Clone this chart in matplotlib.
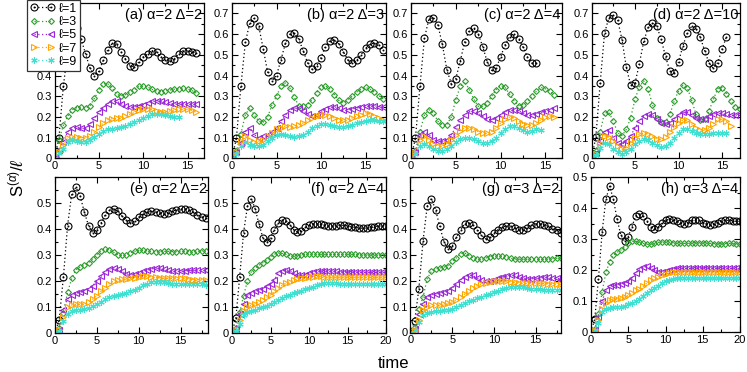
import numpy as np
import matplotlib
matplotlib.use("Agg")
import matplotlib.pyplot as plt
from matplotlib.path import Path
from matplotlib.ticker import MultipleLocator, FuncFormatter

plt.rcParams['font.family'] = ['Liberation Sans', 'DejaVu Sans']
plt.rcParams['mathtext.fontset'] = 'custom'
plt.rcParams['mathtext.rm'] = 'Liberation Sans'
plt.rcParams['mathtext.it'] = 'Liberation Sans:italic'

# data sampled every 0.5 time units, starting at t=0
dt = 0.5

# (a) alpha=2 Delta=2
a_l1 = [0, 0.10, 0.35, 0.52, 0.62, 0.63, 0.575, 0.505, 0.435, 0.40, 0.42, 0.475, 0.525, 0.555, 0.55, 0.515, 0.48, 0.448, 0.442, 0.465, 0.49, 0.505, 0.52, 0.512, 0.49, 0.476, 0.47, 0.48, 0.505, 0.52, 0.52, 0.515, 0.508]
a_l3 = [0, 0.09, 0.16, 0.205, 0.235, 0.245, 0.247, 0.243, 0.255, 0.29, 0.33, 0.36, 0.36, 0.338, 0.31, 0.302, 0.308, 0.32, 0.332, 0.348, 0.35, 0.345, 0.333, 0.324, 0.322, 0.326, 0.33, 0.334, 0.335, 0.338, 0.335, 0.328, 0.315]
a_l5 = [0, 0.04, 0.08, 0.13, 0.145, 0.152, 0.146, 0.145, 0.165, 0.195, 0.222, 0.245, 0.265, 0.278, 0.276, 0.265, 0.252, 0.247, 0.248, 0.254, 0.26, 0.268, 0.275, 0.279, 0.277, 0.273, 0.267, 0.263, 0.263, 0.263, 0.263, 0.263, 0.263]
a_l7 = [0, 0.03, 0.065, 0.1, 0.105, 0.105, 0.1, 0.1, 0.11, 0.127, 0.15, 0.172, 0.187, 0.192, 0.193, 0.196, 0.205, 0.213, 0.222, 0.232, 0.238, 0.241, 0.238, 0.23, 0.226, 0.226, 0.229, 0.234, 0.239, 0.24, 0.238, 0.232, 0.222]
a_l9 = [0, 0.025, 0.045, 0.08, 0.088, 0.085, 0.08, 0.08, 0.087, 0.102, 0.118, 0.132, 0.14, 0.144, 0.145, 0.15, 0.157, 0.165, 0.175, 0.187, 0.197, 0.207, 0.214, 0.217, 0.214, 0.21, 0.205, 0.2, 0.2]

# (b) alpha=2 Delta=3
b_l1 = [0, 0.1, 0.35, 0.56, 0.655, 0.676, 0.64, 0.53, 0.417, 0.375, 0.4, 0.476, 0.556, 0.6, 0.604, 0.575, 0.52, 0.46, 0.43, 0.444, 0.487, 0.54, 0.569, 0.572, 0.553, 0.516, 0.476, 0.463, 0.473, 0.5, 0.532, 0.553, 0.556, 0.548, 0.524]
b_l3 = [0, 0.035, 0.12, 0.21, 0.245, 0.21, 0.18, 0.175, 0.2, 0.26, 0.3, 0.348, 0.364, 0.34, 0.295, 0.255, 0.252, 0.26, 0.284, 0.316, 0.343, 0.35, 0.335, 0.308, 0.28, 0.27, 0.284, 0.3, 0.32, 0.335, 0.343, 0.335, 0.32, 0.303, 0.287]
b_l5 = [0, 0.03, 0.075, 0.13, 0.148, 0.115, 0.1, 0.107, 0.115, 0.13, 0.148, 0.18, 0.21, 0.232, 0.243, 0.243, 0.23, 0.215, 0.207, 0.21, 0.227, 0.238, 0.248, 0.25, 0.243, 0.235, 0.235, 0.24, 0.243, 0.25, 0.255, 0.255, 0.255, 0.25, 0.25]
b_l7 = [0, 0.03, 0.085, 0.107, 0.09, 0.078, 0.083, 0.09, 0.107, 0.123, 0.14, 0.148, 0.155, 0.152, 0.155, 0.163, 0.171, 0.184, 0.195, 0.204, 0.212, 0.212, 0.207, 0.195, 0.188, 0.188, 0.188, 0.195, 0.204, 0.212, 0.22, 0.215, 0.207, 0.195, 0.188]
b_l9 = [0, 0.02, 0.06, 0.078, 0.067, 0.06, 0.06, 0.067, 0.083, 0.1, 0.115, 0.12, 0.115, 0.107, 0.104, 0.107, 0.115, 0.13, 0.148, 0.158, 0.168, 0.168, 0.163, 0.155, 0.15, 0.15, 0.155, 0.163, 0.171, 0.176, 0.18, 0.184, 0.184, 0.18, 0.18]

# (c) alpha=2 Delta=4
c_l1 = [0, 0.1, 0.35, 0.58, 0.673, 0.68, 0.644, 0.55, 0.428, 0.36, 0.385, 0.47, 0.564, 0.617, 0.628, 0.6, 0.54, 0.467, 0.425, 0.435, 0.49, 0.548, 0.588, 0.6, 0.577, 0.537, 0.49, 0.46, 0.46]
c_l3 = [0, 0.035, 0.13, 0.21, 0.235, 0.22, 0.18, 0.16, 0.163, 0.2, 0.284, 0.348, 0.372, 0.332, 0.287, 0.252, 0.252, 0.268, 0.3, 0.332, 0.352, 0.343, 0.311, 0.279, 0.255, 0.26, 0.276, 0.3, 0.324, 0.343, 0.336, 0.324, 0.308]
c_l5 = [0, 0.03, 0.115, 0.13, 0.115, 0.09, 0.083, 0.083, 0.09, 0.115, 0.15, 0.187, 0.21, 0.227, 0.23, 0.22, 0.203, 0.19, 0.187, 0.195, 0.21, 0.224, 0.235, 0.235, 0.23, 0.22, 0.21, 0.21, 0.216, 0.222, 0.227, 0.235, 0.243]
c_l7 = [0, 0.027, 0.09, 0.107, 0.09, 0.072, 0.06, 0.06, 0.072, 0.09, 0.115, 0.135, 0.148, 0.148, 0.143, 0.13, 0.123, 0.123, 0.13, 0.148, 0.171, 0.19, 0.2, 0.195, 0.183, 0.168, 0.163, 0.163, 0.171, 0.187, 0.2, 0.204, 0.2]
c_l9 = [0, 0.02, 0.06, 0.072, 0.06, 0.045, 0.035, 0.035, 0.045, 0.06, 0.078, 0.095, 0.1, 0.1, 0.095, 0.083, 0.075, 0.075, 0.083, 0.1, 0.123, 0.143, 0.155, 0.155, 0.148, 0.136, 0.13, 0.133, 0.14, 0.138]

# (d) alpha=2 Delta=10
d_l1 = [0, 0.103, 0.366, 0.605, 0.68, 0.69, 0.67, 0.573, 0.44, 0.353, 0.363, 0.458, 0.565, 0.632, 0.653, 0.637, 0.576, 0.492, 0.423, 0.411, 0.466, 0.544, 0.605, 0.637, 0.627, 0.584, 0.52, 0.46, 0.435, 0.463, 0.528, 0.587]
d_l3 = [0, 0.035, 0.13, 0.22, 0.222, 0.18, 0.124, 0.11, 0.14, 0.197, 0.285, 0.347, 0.374, 0.334, 0.26, 0.197, 0.176, 0.176, 0.213, 0.277, 0.326, 0.353, 0.342, 0.282, 0.213, 0.185, 0.189, 0.229, 0.285, 0.337, 0.342, 0.313, 0.277, 0.25, 0.237]
d_l5 = [0, 0.027, 0.084, 0.13, 0.138, 0.1, 0.076, 0.068, 0.084, 0.11, 0.148, 0.18, 0.205, 0.215, 0.21, 0.19, 0.171, 0.165, 0.171, 0.19, 0.21, 0.223, 0.223, 0.21, 0.195, 0.189, 0.19, 0.205, 0.215, 0.22, 0.218, 0.213, 0.208, 0.208, 0.213]
d_l7 = [0, 0.02, 0.076, 0.108, 0.105, 0.084, 0.06, 0.044, 0.052, 0.076, 0.1, 0.116, 0.124, 0.116, 0.108, 0.095, 0.092, 0.105, 0.127, 0.153, 0.171, 0.185, 0.185, 0.168, 0.148, 0.137, 0.137, 0.148, 0.168, 0.189, 0.19, 0.18, 0.156]
d_l9 = [0, 0.015, 0.052, 0.073, 0.068, 0.047, 0.031, 0.024, 0.031, 0.047, 0.068, 0.084, 0.092, 0.087, 0.076, 0.063, 0.056, 0.06, 0.076, 0.1, 0.124, 0.14, 0.144, 0.135, 0.124, 0.116, 0.116, 0.116, 0.121, 0.124, 0.124, 0.124]

# (e) alpha=2 Delta=2
e_l1 = [0, 0.051, 0.214, 0.413, 0.536, 0.56, 0.528, 0.465, 0.413, 0.385, 0.397, 0.423, 0.455, 0.472, 0.477, 0.468, 0.449, 0.433, 0.423, 0.429, 0.446, 0.458, 0.465, 0.468, 0.465, 0.462, 0.458, 0.462, 0.468, 0.474, 0.477, 0.477, 0.472, 0.465, 0.455, 0.446, 0.442]
e_l3 = [0, 0.02, 0.077, 0.156, 0.21, 0.244, 0.254, 0.263, 0.27, 0.286, 0.301, 0.317, 0.323, 0.318, 0.31, 0.301, 0.299, 0.301, 0.308, 0.314, 0.318, 0.318, 0.316, 0.314, 0.313, 0.313, 0.314, 0.314, 0.313, 0.313, 0.314, 0.314, 0.313, 0.313, 0.314, 0.316, 0.317]
e_l5 = [0, 0.013, 0.09, 0.13, 0.147, 0.154, 0.156, 0.163, 0.17, 0.182, 0.2, 0.218, 0.235, 0.246, 0.25, 0.246, 0.237, 0.228, 0.224, 0.227, 0.231, 0.237, 0.241, 0.246, 0.25, 0.25, 0.246, 0.241, 0.237, 0.237, 0.237, 0.24, 0.241, 0.241, 0.241, 0.241, 0.241]
e_l7 = [0, 0.01, 0.06, 0.1, 0.108, 0.11, 0.11, 0.112, 0.118, 0.13, 0.143, 0.16, 0.175, 0.19, 0.2, 0.205, 0.207, 0.208, 0.21, 0.213, 0.217, 0.218, 0.218, 0.216, 0.214, 0.212, 0.21, 0.21, 0.212, 0.213, 0.213, 0.21, 0.207, 0.205, 0.205, 0.205, 0.205]
e_l9 = [0, 0.008, 0.045, 0.075, 0.085, 0.088, 0.09, 0.092, 0.095, 0.102, 0.11, 0.12, 0.13, 0.138, 0.143, 0.147, 0.15, 0.155, 0.16, 0.167, 0.175, 0.183, 0.19, 0.195, 0.197, 0.197, 0.195, 0.192, 0.19, 0.188, 0.188, 0.188, 0.19, 0.19, 0.19, 0.188, 0.185]

# (f) alpha=2 Delta=4
f_l1 = [0, 0.057, 0.217, 0.385, 0.487, 0.517, 0.478, 0.42, 0.367, 0.35, 0.367, 0.398, 0.423, 0.434, 0.431, 0.415, 0.398, 0.389, 0.393, 0.406, 0.415, 0.421, 0.421, 0.418, 0.415, 0.412, 0.412, 0.413, 0.414, 0.414, 0.412, 0.409, 0.406, 0.404, 0.403, 0.404, 0.406, 0.409, 0.411, 0.413, 0.413]
f_l3 = [0, 0.02, 0.08, 0.143, 0.2, 0.235, 0.25, 0.26, 0.27, 0.28, 0.292, 0.303, 0.308, 0.306, 0.302, 0.298, 0.297, 0.298, 0.3, 0.303, 0.305, 0.305, 0.304, 0.303, 0.302, 0.302, 0.302, 0.302, 0.302, 0.302, 0.302, 0.302, 0.302, 0.301, 0.301, 0.301, 0.301, 0.301, 0.301, 0.301, 0.301]
f_l5 = [0, 0.015, 0.075, 0.11, 0.145, 0.155, 0.16, 0.165, 0.17, 0.18, 0.19, 0.205, 0.23, 0.24, 0.243, 0.24, 0.232, 0.224, 0.222, 0.225, 0.229, 0.234, 0.238, 0.24, 0.24, 0.239, 0.238, 0.237, 0.236, 0.236, 0.236, 0.236, 0.235, 0.234, 0.233, 0.233, 0.233, 0.233, 0.233, 0.233, 0.233]
f_l7 = [0, 0.01, 0.05, 0.085, 0.1, 0.107, 0.113, 0.12, 0.128, 0.137, 0.147, 0.16, 0.172, 0.183, 0.192, 0.198, 0.203, 0.207, 0.21, 0.213, 0.215, 0.217, 0.218, 0.218, 0.217, 0.216, 0.215, 0.215, 0.215, 0.215, 0.215, 0.215, 0.214, 0.214, 0.214, 0.214, 0.214, 0.214, 0.214, 0.215, 0.215]
f_l9 = [0, 0.008, 0.035, 0.07, 0.08, 0.085, 0.088, 0.095, 0.1, 0.105, 0.11, 0.118, 0.127, 0.135, 0.142, 0.148, 0.153, 0.158, 0.163, 0.168, 0.173, 0.178, 0.184, 0.19, 0.193, 0.193, 0.192, 0.191, 0.19, 0.19, 0.19, 0.19, 0.19, 0.19, 0.19, 0.19, 0.19, 0.19, 0.19, 0.19, 0.19]

# (g) alpha=3 Delta=2
g_l1 = [0, 0.045, 0.168, 0.353, 0.487, 0.517, 0.474, 0.41, 0.351, 0.323, 0.333, 0.368, 0.394, 0.42, 0.423, 0.413, 0.397, 0.375, 0.362, 0.368, 0.384, 0.397, 0.407, 0.411, 0.41, 0.404, 0.397, 0.397, 0.404, 0.413, 0.42, 0.42, 0.416, 0.41, 0.4, 0.394, 0.384]
g_l3 = [0, 0.02, 0.09, 0.136, 0.207, 0.236, 0.245, 0.249, 0.252, 0.258, 0.274, 0.288, 0.304, 0.307, 0.297, 0.288, 0.282, 0.282, 0.287, 0.293, 0.297, 0.297, 0.295, 0.29, 0.286, 0.284, 0.283, 0.283, 0.283, 0.283, 0.282, 0.282, 0.283, 0.284, 0.285, 0.286, 0.287]
g_l5 = [0, 0.013, 0.07, 0.11, 0.136, 0.146, 0.149, 0.151, 0.155, 0.161, 0.172, 0.187, 0.203, 0.216, 0.222, 0.22, 0.21, 0.203, 0.198, 0.2, 0.204, 0.21, 0.213, 0.217, 0.22, 0.22, 0.216, 0.21, 0.207, 0.207, 0.209, 0.21, 0.213, 0.213, 0.21, 0.209, 0.207]
g_l7 = [0, 0.01, 0.05, 0.085, 0.1, 0.105, 0.107, 0.108, 0.11, 0.113, 0.118, 0.126, 0.136, 0.148, 0.16, 0.171, 0.18, 0.187, 0.192, 0.196, 0.198, 0.199, 0.199, 0.198, 0.196, 0.194, 0.192, 0.191, 0.19, 0.19, 0.19, 0.19, 0.19, 0.189, 0.188, 0.187, 0.186]
g_l9 = [0, 0.008, 0.04, 0.068, 0.077, 0.08, 0.082, 0.083, 0.085, 0.088, 0.092, 0.098, 0.105, 0.112, 0.12, 0.127, 0.133, 0.138, 0.143, 0.148, 0.155, 0.162, 0.168, 0.173, 0.176, 0.177, 0.176, 0.174, 0.171, 0.169, 0.167, 0.166, 0.165, 0.165, 0.165, 0.165, 0.165]

# (h) alpha=3 Delta=4
h_l1 = [0, 0.041, 0.172, 0.324, 0.429, 0.47, 0.429, 0.364, 0.313, 0.293, 0.308, 0.34, 0.375, 0.38, 0.373, 0.357, 0.34, 0.332, 0.338, 0.351, 0.36, 0.364, 0.362, 0.357, 0.351, 0.349, 0.353, 0.36, 0.362, 0.36, 0.353, 0.349, 0.346, 0.348, 0.353, 0.357, 0.36, 0.36, 0.359, 0.357, 0.357]
h_l3 = [0, 0.009, 0.058, 0.13, 0.193, 0.226, 0.248, 0.257, 0.264, 0.275, 0.286, 0.293, 0.293, 0.289, 0.286, 0.283, 0.283, 0.286, 0.289, 0.291, 0.291, 0.289, 0.288, 0.287, 0.286, 0.286, 0.286, 0.287, 0.288, 0.288, 0.288, 0.287, 0.286, 0.285, 0.285, 0.285, 0.285, 0.286, 0.286, 0.285, 0.285]
h_l5 = [0, 0.008, 0.05, 0.1, 0.135, 0.148, 0.152, 0.153, 0.155, 0.158, 0.165, 0.175, 0.19, 0.203, 0.21, 0.213, 0.208, 0.2, 0.195, 0.195, 0.198, 0.2, 0.203, 0.205, 0.206, 0.206, 0.205, 0.205, 0.206, 0.208, 0.208, 0.208, 0.207, 0.206, 0.206, 0.206, 0.206, 0.205, 0.205, 0.205, 0.204]
h_l7 = [0, 0.006, 0.04, 0.075, 0.095, 0.103, 0.107, 0.108, 0.11, 0.113, 0.118, 0.126, 0.135, 0.14, 0.147, 0.158, 0.167, 0.174, 0.179, 0.183, 0.187, 0.19, 0.192, 0.194, 0.195, 0.195, 0.195, 0.194, 0.194, 0.194, 0.194, 0.194, 0.194, 0.194, 0.194, 0.193, 0.193, 0.193, 0.193, 0.193, 0.193]
h_l9 = [0, 0.005, 0.03, 0.065, 0.075, 0.078, 0.08, 0.08, 0.082, 0.085, 0.09, 0.095, 0.1, 0.108, 0.117, 0.126, 0.135, 0.143, 0.15, 0.157, 0.163, 0.168, 0.172, 0.174, 0.175, 0.175, 0.175, 0.174, 0.174, 0.174, 0.174, 0.174, 0.174, 0.174, 0.174, 0.174, 0.175, 0.175, 0.175, 0.175, 0.175]

titles = ['(a) α=2 Δ=2', '(b) α=2 Δ=3', '(c) α=2 Δ=4', '(d) α=2 Δ=10',
          '(e) α=2 Δ=2', '(f) α=2 Δ=4', '(g) α=3 Δ=2', '(h) α=3 Δ=4']
legend_labels = ['ℓ=1', 'ℓ=3', 'ℓ=5', 'ℓ=7', 'ℓ=9']

W, H = 747, 372

def px_rect(l, r, t, b):
    return [l / W, 1 - b / H, (r - l) / W, (b - t) / H]

dot_circle = Path.make_compound_path(Path.unit_circle(), Path.circle((0, 0), 0.12))
styles = [
    dict(color='black', marker=dot_circle, ms=5.0),
    dict(color='#2a9d2a', marker='D', ms=3.0),
    dict(color='#9a26d8', marker='<', ms=4.2),
    dict(color='#ffa500', marker='>', ms=4.2),
    dict(color='#40e0d0', marker=(6, 2, 0), ms=4.6),
]

# panel: rect in pixels, x max, y max, top labelled y tick, series
panels = [
    (px_rect(54.5, 204, 3, 158.5), 16.85, 0.75, 0.7, [a_l1, a_l3, a_l5, a_l7, a_l9]),
    (px_rect(232, 386, 3, 158.5), 17.3, 0.75, 0.7, [b_l1, b_l3, b_l5, b_l7, b_l9]),
    (px_rect(411, 561.5, 3, 158.5), 16.8, 0.75, 0.7, [c_l1, c_l3, c_l5, c_l7, c_l9]),
    (px_rect(591.5, 739.5, 3, 158.5), 17.0, 0.75, 0.7, [d_l1, d_l3, d_l5, d_l7, d_l9]),
    (px_rect(55, 208.3, 177, 333), 18.3, 0.6, 0.5, [e_l1, e_l3, e_l5, e_l7, e_l9]),
    (px_rect(232, 386, 177, 333), 20.0, 0.6, 0.5, [f_l1, f_l3, f_l5, f_l7, f_l9]),
    (px_rect(410.5, 560.7, 177, 332.5), 18.0, 0.6, 0.5, [g_l1, g_l3, g_l5, g_l7, g_l9]),
    (px_rect(591, 740, 177, 332), 20.0, 0.5, 0.5, [h_l1, h_l3, h_l5, h_l7, h_l9]),
]

fig = plt.figure(figsize=(W / 100, H / 100), dpi=100)

handles = None
for (rect, xmax, ymax, ylab_max, series), title in zip(panels, titles):
    ax = fig.add_axes(rect)
    lines = []
    for vals, st in zip(series, styles):
        t = np.arange(len(vals)) * dt
        ln, = ax.plot(t, vals, linestyle=(0, (1, 2)), linewidth=0.9,
                      color=st['color'], marker=st['marker'], markersize=st['ms'],
                      markerfacecolor='none', markeredgecolor=st['color'],
                      markeredgewidth=0.8)
        lines.append(ln)
    if handles is None:
        handles = lines
    ax.set_xlim(0, xmax)
    ax.set_ylim(0, ymax)
    ax.set_yticks(np.arange(0, ylab_max + 0.001, 0.1))
    ax.yaxis.set_minor_locator(MultipleLocator(0.05))
    ax.xaxis.set_major_locator(MultipleLocator(5))
    ax.xaxis.set_minor_locator(MultipleLocator(2.5))
    ax.yaxis.set_major_formatter(FuncFormatter(lambda v, p: '%g' % round(v, 2)))
    ax.tick_params(which='both', direction='in', top=True, right=True,
                   labelsize=8, width=0.8, pad=2)
    ax.tick_params(which='major', length=4)
    ax.tick_params(which='minor', length=2)
    for s in ax.spines.values():
        s.set_linewidth(0.9)
    ax.text(0.99, 0.965, title, transform=ax.transAxes, ha='right', va='top',
            fontsize=10.5)

leg = fig.legend(handles, legend_labels, loc='upper left',
                 bbox_to_anchor=(27 / W, 1.0), numpoints=2, fontsize=9,
                 handlelength=2.0, handletextpad=0.3, labelspacing=0.1,
                 borderpad=0.22, borderaxespad=0, fancybox=False,
                 framealpha=1, edgecolor='#333333')
leg.get_frame().set_linewidth(0.9)

fig.text(16 / W, 1 - 178 / H, r'S$^{(\alpha)}$/$\ell$', rotation=90,
         ha='center', va='center', fontsize=12)
fig.text(393 / W, 1 - 364 / H, 'time', ha='center', va='center', fontsize=12)

fig.savefig('out.png', dpi=100)
